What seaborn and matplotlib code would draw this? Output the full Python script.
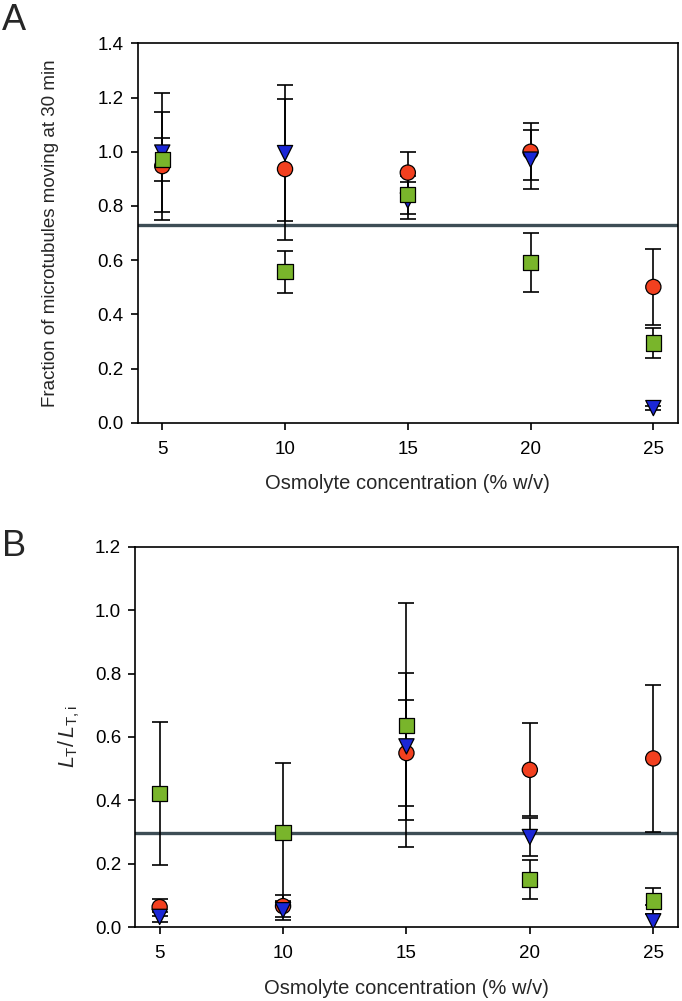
import numpy as np
import pandas as pd
import matplotlib
matplotlib.use("Agg")
import matplotlib.pyplot as plt
import seaborn as sns

conc = [5, 10, 15, 20, 25]

# panel A: fraction moving at 30 min
a_red = [0.947, 0.936, 0.923, 1.000, 0.501]
a_red_err = [0.200, 0.260, 0.075, 0.106, 0.140]
a_blue = [0.997, 0.995, 0.820, 0.971, 0.054]
a_blue_err = [0.220, 0.250, 0.070, 0.110, 0.006]
a_green = [0.971, 0.557, 0.842, 0.592, 0.294]
a_green_err = [0.080, 0.077, 0.070, 0.109, 0.057]
a_line = 0.729

# panel B: L_T / L_T,i
b_red = [0.063, 0.066, 0.549, 0.496, 0.532]
b_red_err = [0.027, 0.034, 0.166, 0.147, 0.232]
b_blue = [0.032, 0.053, 0.570, 0.284, 0.018]
b_blue_err = [0.016, 0.030, 0.233, 0.060, 0.050]
b_green = [0.421, 0.298, 0.637, 0.151, 0.082]
b_green_err = [0.225, 0.220, 0.384, 0.062, 0.041]
b_line = 0.298

series = ["red", "blue", "green"]
colors = {"red": "#f2401f", "blue": "#1b27d6", "green": "#79b52b"}
markers = {"red": "o", "blue": "v", "green": "s"}


def make_df(vals, errs):
    rows = []
    for name, v, e in zip(series, vals, errs):
        for x, y, ye in zip(conc, v, e):
            rows.append({"conc": x, "value": y, "err": ye, "series": name})
    return pd.DataFrame(rows)


def draw_panel(ax, df, hline, ylim, yticks, ylabel, ylsize, ylpad):
    for name in series:
        sub = df[df["series"] == name]
        ax.errorbar(sub["conc"], sub["value"], yerr=sub["err"], fmt="none",
                    ecolor="black", elinewidth=1.2, capsize=6, capthick=1.2, zorder=2)
    ax.axhline(hline, color="#3d4d55", lw=2.4, zorder=1)
    sns.scatterplot(data=df, x="conc", y="value", hue="series", style="series",
                    palette=colors, markers=markers, hue_order=series,
                    s=120, edgecolor="black", linewidth=0.9, legend=False,
                    ax=ax, zorder=3)
    ax.set_xlim(4, 26)
    ax.set_ylim(*ylim)
    ax.set_xticks(conc)
    ax.set_yticks(yticks)
    ax.set_yticklabels([f"{t:.1f}" for t in yticks])
    ax.tick_params(direction="out", length=5, width=1.2, labelsize=13.5, colors="black")
    ax.tick_params(axis="x", pad=8)
    ax.tick_params(axis="y", pad=5)
    for sp in ax.spines.values():
        sp.set_linewidth(1.2)
        sp.set_color("black")
    ax.set_xlabel("Osmolyte concentration (% w/v)", fontsize=14.5, labelpad=12)
    ax.set_ylabel(ylabel, fontsize=ylsize, labelpad=ylpad)


sns.set_theme(style="ticks")
plt.rcParams["font.family"] = ["Liberation Sans", "DejaVu Sans"]
plt.rcParams["mathtext.fontset"] = "custom"
plt.rcParams["mathtext.it"] = "Liberation Sans:italic"
plt.rcParams["mathtext.rm"] = "Liberation Sans"

fig = plt.figure(figsize=(6.82, 10.01), dpi=100)
ax1 = fig.add_axes([0.2019, 0.5777, 0.7921, 0.3790])
ax2 = fig.add_axes([0.1979, 0.0739, 0.7961, 0.3799])

draw_panel(ax1, make_df([a_red, a_blue, a_green], [a_red_err, a_blue_err, a_green_err]),
           a_line, (0, 1.4), [0.0, 0.2, 0.4, 0.6, 0.8, 1.0, 1.2, 1.4],
           "Fraction of microtubules moving at 30 min", 13.5, 28)
draw_panel(ax2, make_df([b_red, b_blue, b_green], [b_red_err, b_blue_err, b_green_err]),
           b_line, (0, 1.2), [0.0, 0.2, 0.4, 0.6, 0.8, 1.0, 1.2],
           r"$L_{\mathrm{T}}/\,L_{\mathrm{T,i}}$", 15.5, 9)

fig.text(0.003, 0.997, "A", fontsize=26, ha="left", va="top")
fig.text(0.003, 0.472, "B", fontsize=26, ha="left", va="top")

fig.savefig("out.png", dpi=100)
